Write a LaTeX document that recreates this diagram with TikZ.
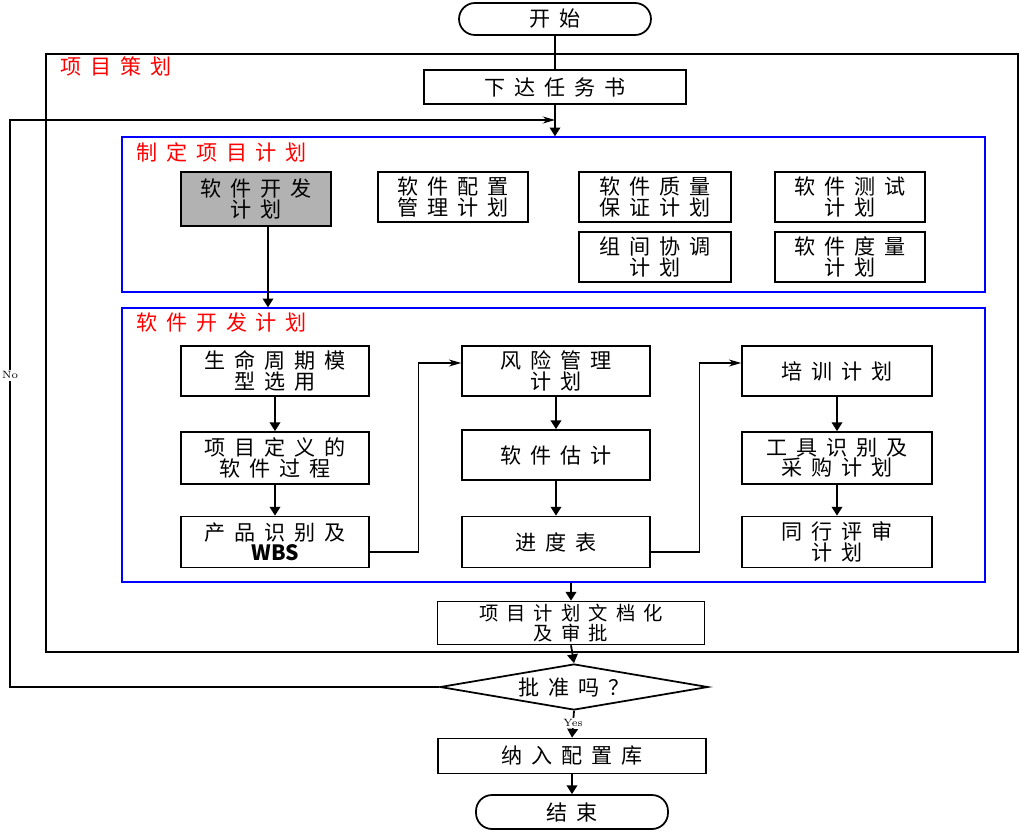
\documentclass[tikz,border=0pt]{standalone}
\usepackage{fontspec}
\newfontfamily\cjk[LetterSpace=42]{Noto Sans CJK SC}
\newfontfamily\latin{Noto Sans CJK SC}
\usetikzlibrary{positioning,shapes.geometric,arrows.meta}

\begin{document}
\begin{tikzpicture}[x=0.02cm, y=-0.02cm,
	box/.style={draw, line width=1pt, fill=white, align=center, inner sep=0pt,
		font=\cjk\fontsize{12}{11.6}\selectfont},
	plan/.style={box, minimum width=3.76cm, minimum height=1cm},
	sub/.style={box, minimum width=3cm, minimum height=1cm},
	term/.style={box, rounded corners=0.32cm, minimum width=3.84cm, minimum height=0.64cm},
	frame/.style={draw=blue, line width=0.8pt, minimum width=17.26cm},
	title/.style={anchor=west, text=red, font=\cjk\fontsize{12}{12}\selectfont},
	link/.style={line width=1pt},
	arr/.style={link, -{Triangle[length=5pt,width=6pt]}},
	thinarr/.style={line width=0.6pt, -{Stealth[length=7pt,width=4pt]}}]
	\useasboundingbox (0,0) rectangle (1027,831);
	% frames
	\node[draw, line width=1pt, minimum width=19.44cm, minimum height=11.96cm] (outer) at (532,353) {};
	\node[title] (outertitle) at (54,66) {项目策划};
	\node[frame, minimum height=3.1cm] (setplan) at (553.5,214.5) {};
	\node[title] (settitle) at (130,152) {制定项目计划};
	\node[frame, minimum height=5.48cm] (devplan) at (553.5,445) {};
	\node[title] (devtitle) at (130,322) {软件开发计划};
	% main flow
	\node[term] (start) at (555,19) {开始};
	\node[box, minimum width=5.24cm, minimum height=0.68cm] (task) at (555,87) {下达任务书};
	\node[sub, fill=gray!60, minimum height=1.08cm] (sdp) at (256,199) {软件开发\\计划};
	\node[sub] (scm) at (453,197) {软件配置\\管理计划};
	\node[sub, minimum width=3.04cm] (sqa) at (655,197) {软件质量\\保证计划};
	\node[sub] (test) at (850,197) {软件测试\\计划};
	\node[sub, minimum width=3.04cm] (coord) at (655,257) {组间协调\\计划};
	\node[sub] (measure) at (850,257) {软件度量\\计划};
	% development plan
	\node[plan] (life) at (275,371) {生命周期模\\型选用};
	\node[plan, minimum height=1.04cm] (proc) at (275,458) {项目定义的\\软件过程};
	\node[plan, minimum height=1.02cm] (wbs) at (275,542) {产品识别及\\{\latin\bfseries WBS}};
	\node[plan] (risk) at (556,371) {风险管理\\计划};
	\node[plan] (est) at (556,455) {软件估计};
	\node[plan, minimum height=1.02cm] (sched) at (556,542) {进度表};
	\node[plan, minimum width=3.8cm] (train) at (837,371) {培训计划};
	\node[plan, minimum width=3.8cm, minimum height=1.04cm] (tool) at (837,458) {工具识别及\\采购计划};
	\node[plan, minimum width=3.8cm, minimum height=1.02cm] (peer) at (837,542) {同行评审\\计划};
	% approval
	\node[box, inner ysep=1.5pt, minimum width=5.34cm, minimum height=0.7cm, font=\cjk\fontsize{11}{10}\selectfont] (doc) at (571,623) {项目计划文档化\\及审批};
	\node[box, diamond, aspect=5.8, minimum width=5.36cm, minimum height=0.92cm] (dec) at (574,687) {批准吗？};
	\node[box, minimum width=5.36cm, minimum height=0.7cm] (cfg) at (572,756) {纳入配置库};
	\node[term, minimum height=0.68cm] (end) at (572,812) {结束};
	% connectors
	\coordinate (loopx) at (10,120);
	\coordinate (join) at (task.south |- loopx);
	\draw[link] (start) -- (task);
	\draw[arr] (task.south) -- (task.south |- setplan.north);
	\draw[thinarr] (dec.west) -| node[pos=0.775, fill=white, inner sep=1pt, font=\fontsize{6}{7}\selectfont] {No} (loopx) -- (join);
	\draw[arr] ([xshift=0.24cm]sdp.south) -- ([xshift=0.24cm]sdp.south |- devplan.north);
	\draw[arr] (life) -- (proc);
	\draw[arr] (proc) -- (wbs);
	\draw[arr] (risk) -- (est);
	\draw[arr] (est) -- (sched);
	\draw[arr] (train) -- (tool);
	\draw[arr] (tool) -- (peer);
	\draw[thinarr] ([yshift=-0.2cm]wbs.east) -- ++(49,0) |- ([yshift=0.16cm]risk.west);
	\draw[thinarr] ([yshift=-0.2cm]sched.east) -- ++(49,0) |- ([yshift=0.16cm]train.west);
	\draw[arr] (doc.north |- devplan.south) -- (doc.north);
	\draw[arr] (doc.south) -- (dec.north);
	\draw[arr] (dec.south) -- node[fill=white, inner sep=1pt, pos=0.45, font=\fontsize{6}{7}\selectfont] {Yes} (cfg.north);
	\draw[arr] (cfg.south) -- (end.north);
\end{tikzpicture}
\end{document}
